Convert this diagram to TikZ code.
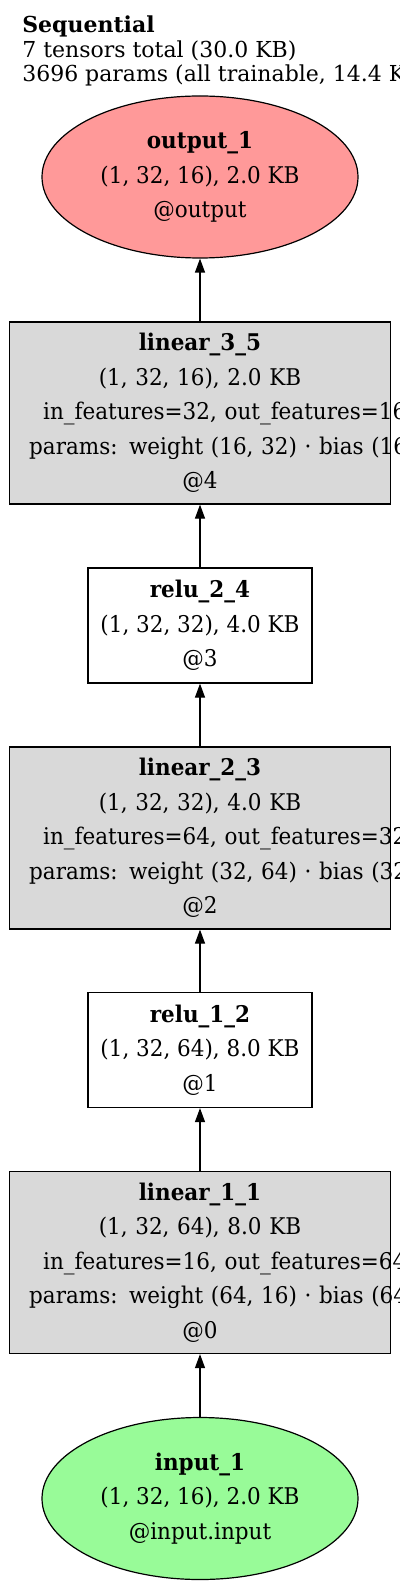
\documentclass[tikz,border=0pt]{standalone}
\usepackage{fontspec}
\setmainfont{DejaVu Serif}
\newfontfamily\nodefont{DejaVu Serif}[FakeStretch=0.935]
\usetikzlibrary{shapes.geometric,arrows.meta}

\definecolor{outred}{HTML}{FF9999}
\definecolor{ingreen}{HTML}{98FB98}
\definecolor{layergray}{HTML}{D9D9D9}

% a line wider than its box: starts at a fixed offset and runs out to the right
\newcommand{\wideline}[2]{\makebox[190.5pt][l]{\hspace*{#1}#2}}

\begin{document}
\begin{tikzpicture}[
    x=0.5pt, y=-0.5pt,
    font=\nodefont\fontsize{11.5}{17.25}\selectfont,
    every node/.style={line width=0.6pt},
    tensorIn/.style={draw, ellipse, fill=ingreen, minimum width=158pt,
                     minimum height=81pt, inner sep=0pt, align=center},
    tensorOut/.style={draw, ellipse, fill=outred, minimum width=158pt,
                      minimum height=81pt, inner sep=0pt, align=center},
    layer/.style={draw, rectangle, fill=layergray, text width=190.5pt,
                  minimum height=91pt, inner sep=0pt, align=center},
    act/.style={draw, rectangle, minimum width=112pt, minimum height=57.5pt,
                inner sep=0pt, align=center},
    arr/.style={-{Triangle[length=7pt, width=5pt]}, line width=0.6pt},
  ]

  \useasboundingbox (0,0) rectangle (400,1588);

  %% ================================================================
  %% Summary label (top left)
  %% ================================================================
  \node[anchor=north west, align=left, inner sep=0pt,
        font=\rmfamily\fontsize{11}{12.25}\selectfont] (summary) at (21.7, 15.5)
    {\textbf{Sequential}\\7 tensors total (30.0 KB)\\
     3696 params (all trainable, 14.4 KB)};

  %% ================================================================
  %% Graph: input at the bottom, output at the top
  %% ================================================================
  \node[tensorOut] (out1)   at (200, 177)
    {\textbf{output\_1}\\(1, 32, 16), 2.0 KB\\@output};

  \node[layer]     (lin35)  at (200, 413)
    {\textbf{linear\_3\_5}\\(1, 32, 16), 2.0 KB\\
     \wideline{16.85pt}{in\_features=32, out\_features=16}\\
     \wideline{9.85pt}{params: weight (16, 32) · bias (16,)}\\@4};

  \node[act]       (relu24) at (200, 625.5)
    {\textbf{relu\_2\_4}\\(1, 32, 32), 4.0 KB\\@3};

  \node[layer]     (lin23)  at (200, 838)
    {\textbf{linear\_2\_3}\\(1, 32, 32), 4.0 KB\\
     \wideline{16.85pt}{in\_features=64, out\_features=32}\\
     \wideline{9.85pt}{params: weight (32, 64) · bias (32,)}\\@2};

  \node[act]       (relu12) at (200, 1050)
    {\textbf{relu\_1\_2}\\(1, 32, 64), 8.0 KB\\@1};

  \node[layer]     (lin11)  at (200, 1262.5)
    {\textbf{linear\_1\_1}\\(1, 32, 64), 8.0 KB\\
     \wideline{16.85pt}{in\_features=16, out\_features=64}\\
     \wideline{9.85pt}{params: weight (64, 16) · bias (64,)}\\@0};

  \node[tensorIn]  (inp1)   at (200, 1498.5)
    {\textbf{input\_1}\\(1, 32, 16), 2.0 KB\\@input.input};

  %% data flow
  \draw[arr] (inp1)   -- (lin11);
  \draw[arr] (lin11)  -- (relu12);
  \draw[arr] (relu12) -- (lin23);
  \draw[arr] (lin23)  -- (relu24);
  \draw[arr] (relu24) -- (lin35);
  \draw[arr] (lin35)  -- (out1);

\end{tikzpicture}
\end{document}
